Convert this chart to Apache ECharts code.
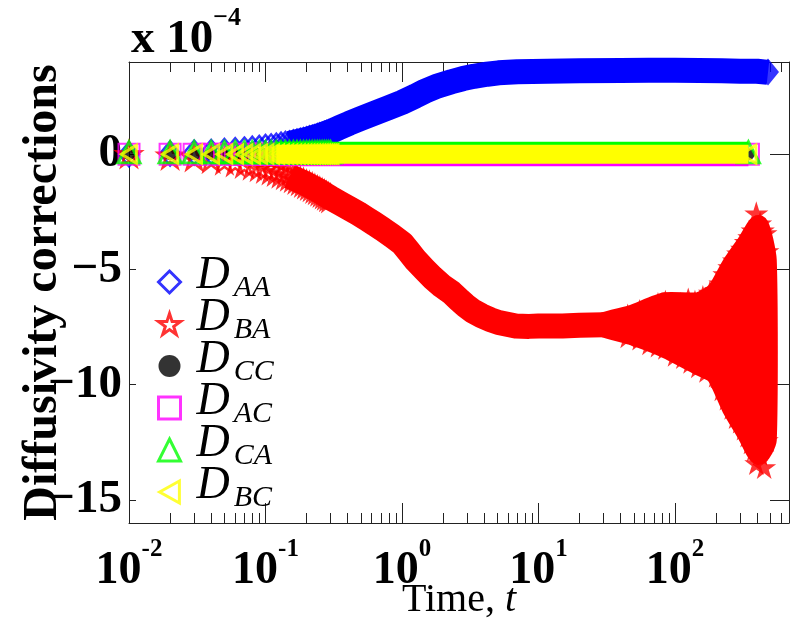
<!DOCTYPE html>
<html><head><meta charset="utf-8">
<script src="https://cdn.jsdelivr.net/npm/echarts@6/dist/echarts.min.js"></script>
<style>html,body{margin:0;padding:0;background:#fff}#c{width:792px;height:636px}</style>
</head><body><div id="c"></div>
<script>
// ---------------- data (values in units of 1e-4) ----------------
const seriesNames = ['D_AA', 'D_BA', 'D_CC', 'D_AC', 'D_CA', 'D_BC'];
const subText = ['AA', 'BA', 'CC', 'AC', 'CA', 'BC'];

const tEarly = [0.01,0.02,0.03,0.04,0.05,0.06,0.07,0.08,0.09,0.10,0.11,0.12,0.13,0.14,0.15,0.16,0.17,0.18,0.19,0.20,0.21,0.22,0.23,0.24,0.25,0.26,0.27,0.28,0.29,0.30];
const aaEarly = [0,0.03,0.07,0.10,0.14,0.17,0.20,0.24,0.27,0.31,0.34,0.37,0.41,0.44,0.47,0.51,0.54,0.58,0.61,0.64,0.68,0.71,0.74,0.78,0.81,0.84,0.88,0.91,0.94,0.98];
const baEarly = [0,-0.06,-0.13,-0.20,-0.27,-0.34,-0.41,-0.48,-0.55,-0.62,-0.69,-0.76,-0.83,-0.90,-0.96,-1.03,-1.10,-1.16,-1.23,-1.30,-1.36,-1.42,-1.49,-1.55,-1.61,-1.67,-1.73,-1.79,-1.85,-1.90];
const ccEarly = [0,0,0,0,0,0,0,0,0,0,0,0,0,0,0,0,0,0,0,0,0,0,0,0,0,0,0,0,0,0];
const acEarly = [0,0,0,0,0,0,0,0,0,0,0,0,0,0,0,0,0,0,0,0,0,0,0,0,0,0,0,0,0,0];
const caEarly = [0.08,0.08,0.08,0.08,0.08,0.08,0.08,0.08,0.08,0.08,0.08,0.08,0.08,0.08,0.08,0.08,0.08,0.08,0.08,0.08,0.08,0.08,0.08,0.08,0.08,0.08,0.08,0.08,0.08,0.08];
const bcEarly = [0,0,0,0,0,0,0,0,0,0,0,0,0,0,0,0,0,0,0,0,0,0,0,0,0,0,0,0,0,0];

// dense part (markers merge into a band)
const tAA = [0.15,0.2,0.25,0.3,0.35,0.41,0.5,0.63,0.8,1.0,1.25,1.47,1.8,2.3,2.8,3.36,4.2,5.1,7,11.6,20,40,64,100,150,220,300,400,480];
const vAA = [0.47,0.64,0.81,0.98,1.16,1.34,1.55,1.78,2.02,2.25,2.52,2.73,2.95,3.14,3.28,3.38,3.47,3.53,3.58,3.6,3.62,3.63,3.64,3.64,3.63,3.62,3.6,3.6,3.55];
const tBA = [0.15,0.2,0.25,0.3,0.35,0.41,0.48,0.55,0.63,0.72,0.85,1.0,1.12,1.26,1.45,1.67,1.95,2.3,2.6,2.9,3.3,3.8,4.4,5.1,6.8,8.5,10,15,20,30,40];
const vBA = [-0.96,-1.3,-1.61,-1.9,-2.12,-2.35,-2.58,-2.8,-3.02,-3.25,-3.55,-3.86,-4.22,-4.6,-4.98,-5.35,-5.7,-6.0,-6.3,-6.55,-6.8,-7.0,-7.17,-7.3,-7.45,-7.47,-7.45,-7.45,-7.42,-7.4,-7.4];
const tZero = [0.12,0.3,1,10,100,345];
const vCC = [0,0,0,0,0,0];
const vAC = [-0.02,-0.02,-0.02,-0.02,-0.02,-0.02];
const vCA = [0.08,0.08,0.08,0.08,0.08,0.08];
const vBC = [0,0,0,0,0,0];

// noisy late part of D_BA: envelope of the star cloud
const tailT  = [30,48,85,148,200,260,340,410,470];
const tailHi = [-7.3,-6.98,-6.42,-6.42,-5.98,-4.81,-3.81,-3.08,-4.6];
const tailLo = [-7.5,-7.85,-8.41,-9.15,-9.58,-11.0,-12.18,-13.05,-12.4];
// individual stars on the ragged edge of that cloud
const tailStarT = [45,55,65,75,85,95,110,125,140,160,180,200,215,230,250,270,290,310,330,350,370,394,420,440,460,475,
                   45,55,65,75,85,100,115,130,148,170,200,220,240,260,280,300,320,340,360,380,394,420,450,470];
const tailStarV = [-7.0,-6.8,-6.7,-6.5,-6.4,-6.9,-6.5,-6.3,-6.4,-6.2,-6.0,-5.9,-5.6,-5.2,-4.9,-4.6,-4.3,-4.1,-3.8,-3.6,-3.3,-2.56,-3.0,-3.3,-3.42,-4.2,
                   -7.9,-8.0,-8.2,-8.3,-8.4,-8.7,-8.8,-9.0,-9.2,-9.4,-9.6,-10.2,-10.6,-11.0,-11.4,-11.6,-11.9,-12.2,-12.5,-12.8,-13.4,-13.0,-13.57,-12.4];

// last markers at the end of each band
const aaLast = [480, 3.57];
const zeroLastT = 345;

// axis ticks
const xMin = 0.01, xMax = 684;
const xTickVals = [0.01, 0.1, 1, 10, 100];
const xTickSup = ['-2', '-1', '0', '1', '2'];
const yMin = -16, yMax = 4;
const yTickVals = [-15, -10, -5, 0];
const yTickText = ['\u221215', '\u221210', '\u22125', '0'];

// ---------------- styles ----------------
const COL = { AA: '#0000ff', BA: '#ff0000', CC: '#000000', AC: '#ff00ff', CA: '#00ff00', BC: '#ffff00' };
const STAR = 'path://M10,0 L12.234,6.926 L19.511,6.91 L13.614,11.174 L15.878,18.09 L10,13.8 L4.122,18.09 L6.386,11.174 L0.489,6.91 L7.766,6.926 Z';
const LTRI = 'path://M0,5 L9,0 L9,10 Z';
const UTRI = 'path://M5,0 L10,10 L0,10 Z';
const SERIF = 'Liberation Serif';

function pairs(ts, vs) { return ts.map((t, i) => [t, vs[i]]); }
function band(name, ts, vs, color, width, z) {
  return { name: name, type: 'line', data: pairs(ts, vs), showSymbol: false, symbol: 'none', smooth: false, clip: false, silent: true,
           lineStyle: { color: color, width: width, cap: 'butt', join: 'round' }, z: z };
}
function pts(name, data, symbol, size, color, hollow, bw, z) {
  return { name: name, type: 'scatter', data: data, symbol: symbol, symbolSize: size, clip: false, silent: true,
           itemStyle: hollow ? { color: 'none', borderColor: color, borderWidth: bw } : { color: color },
           z: z };
}

const minorExp = [];
[-2, -1, 0, 1, 2].forEach(k => { for (let m = 2; m <= 9; m++) { const e = k + Math.log10(m); if (e < Math.log10(xMax)) minorExp.push(e); } });

const chart = echarts.init(document.getElementById('c'), null, { renderer: 'canvas' });
function mkLine(show) { return { show: show, onZero: true, onZeroAxisIndex: 99, lineStyle: { color: '#222', width: 1 } }; }
function mkTick(len, custom) {
  const o = { show: true, inside: true, length: len, lineStyle: { color: '#222', width: 1 } };
  if (custom) o.customValues = custom;
  return o;
}

const legendIcons = ['diamond', STAR, 'circle', 'rect', UTRI, LTRI];
const legendCols = [COL.AA, COL.BA, COL.CC, COL.AC, COL.CA, COL.BC];

const option = {
  animation: false,
  backgroundColor: '#fff',
  title: {
    text: '{a|x 10}{b|\u22124}', left: 126, top: 0,
    textStyle: { rich: {
      a: { fontFamily: SERIF, fontWeight: 'bold', fontSize: 47, lineHeight: 58, verticalAlign: 'bottom', color: '#000' },
      b: { fontFamily: SERIF, fontWeight: 'bold', fontSize: 26, lineHeight: 26, verticalAlign: 'top', color: '#000' }
    } }
  },
  grid: { left: 129, right: 1, top: 62, bottom: 113, containLabel: false },
  legend: {
    orient: 'vertical', left: 151, top: 248, itemWidth: 22, itemHeight: 22, itemGap: -8,
    selectedMode: false,
    data: seriesNames.map((n, i) => ({
      name: n, icon: legendIcons[i],
      itemStyle: i === 2 ? { color: '#000', borderWidth: 0 } : { color: 'none', borderColor: legendCols[i], borderWidth: 3 }
    })),
    formatter: name => '{d|D}{s|' + subText[seriesNames.indexOf(name)] + '}',
    textStyle: { rich: {
      d: { fontFamily: SERIF, fontStyle: 'italic', fontSize: 46, lineHeight: 42, verticalAlign: 'bottom', padding: [0, 0, 4, 11], color: '#000' },
      s: { fontFamily: SERIF, fontStyle: 'italic', fontSize: 30, lineHeight: 42, verticalAlign: 'bottom', padding: [0, 0, 0, 4], color: '#000' }
    } }
  },
  xAxis: [
    { type: 'log', logBase: 10, min: xMin, max: xMax, position: 'bottom',
      axisLine: mkLine(true), splitLine: { show: false },
      axisTick: mkTick(20),
      axisLabel: { show: true, margin: 14, formatter: v => {
          const i = xTickVals.findIndex(x => Math.abs(Math.log10(x) - Math.log10(v)) < 1e-6);
          return i < 0 ? '' : '{b|10}{s|' + xTickSup[i] + '}'; },
        rich: {
          b: { fontFamily: SERIF, fontWeight: 'bold', fontSize: 46, lineHeight: 57, verticalAlign: 'bottom', color: '#000' },
          s: { fontFamily: SERIF, fontWeight: 'bold', fontSize: 25, lineHeight: 25, verticalAlign: 'top', color: '#000' }
        } },
      name: '{r|Time, }{i|t}', nameLocation: 'middle', nameGap: 57, nameMoveOverlap: false,
      nameTextStyle: { lineHeight: 40, rich: {
        r: { fontFamily: SERIF, fontSize: 40, lineHeight: 40, color: '#000' },
        i: { fontFamily: SERIF, fontStyle: 'italic', fontSize: 40, lineHeight: 40, color: '#000' } } }
    },
    { type: 'value', min: Math.log10(xMin), max: Math.log10(xMax), position: 'bottom',
      axisLine: mkLine(false), splitLine: { show: false }, axisLabel: { show: false },
      axisTick: mkTick(10, minorExp) },
    { type: 'log', logBase: 10, min: xMin, max: xMax, position: 'top',
      axisLine: mkLine(true), splitLine: { show: false }, axisLabel: { show: false },
      axisTick: mkTick(20) },
    { type: 'value', min: Math.log10(xMin), max: Math.log10(xMax), position: 'top',
      axisLine: mkLine(false), splitLine: { show: false }, axisLabel: { show: false },
      axisTick: mkTick(10, minorExp) }
  ],
  yAxis: [
    { type: 'value', min: yMin, max: yMax, position: 'left',
      axisLine: mkLine(true), splitLine: { show: false },
      axisTick: mkTick(7, yTickVals),
      axisLabel: { show: true, margin: 7, customValues: yTickVals,
        formatter: v => yTickText[yTickVals.indexOf(v)],
        fontFamily: SERIF, fontWeight: 'bold', fontSize: 47, color: '#000' },
      name: 'Diffusivity corrections', nameLocation: 'middle', nameGap: 63, nameRotate: 90, nameMoveOverlap: false,
      nameTextStyle: { fontFamily: SERIF, fontWeight: 'bold', fontSize: 48, lineHeight: 44, color: '#000' } },
    { type: 'value', min: yMin, max: yMax, position: 'right',
      axisLine: mkLine(true), splitLine: { show: false }, axisLabel: { show: false },
      axisTick: mkTick(19, yTickVals) }
  ],
  series: [
    // D_AA (blue diamonds)
    band('AA band', tAA, vAA, COL.AA, 25, 2),
    pts('D_AA', pairs(tEarly, aaEarly), 'diamond', [20, 24], COL.AA, true, 2.5, 2),
    pts('AA end', [aaLast], 'diamond', [22, 27], COL.AA, false, 0, 2),
    // D_BA (red stars)
    band('BA band', tBA, vBA, COL.BA, 25, 3),
    { name: 'BA tail', type: 'custom', silent: true, clip: false, z: 3,
      data: [[tailT[0], tailHi[0]]],
      renderItem: (params, api) => {
        const p = [];
        for (let i = 0; i < tailT.length; i++) p.push(api.coord([tailT[i], tailHi[i]]));
        for (let i = tailT.length - 1; i >= 0; i--) p.push(api.coord([tailT[i], tailLo[i]]));
        return { type: 'polygon', shape: { points: p, smooth: 0.2 },
                 style: { fill: COL.BA, stroke: COL.BA, lineWidth: 20, lineJoin: 'round' } };
      } },
    pts('BA tail stars', pairs(tailStarT, tailStarV), STAR, 24, COL.BA, false, 0, 3),
    pts('D_BA', pairs(tEarly, baEarly), STAR, 24, COL.BA, true, 2.5, 3),
    // D_CC (black dots)
    band('CC band', tZero, vCC, COL.CC, 12, 4),
    pts('D_CC', pairs(tEarly, ccEarly).concat([[zeroLastT, 0]]), 'circle', 12, COL.CC, false, 0, 4),
    // D_AC (magenta squares)
    band('AC band', tZero, vAC, COL.AC, 23, 5),
    pts('D_AC', pairs(tEarly, acEarly).concat([[zeroLastT, 0]]), 'rect', 21, COL.AC, true, 2, 5),
    // D_CA (green triangles)
    band('CA band', tZero, vCA, COL.CA, 21, 6),
    pts('D_CA', pairs(tEarly, caEarly).concat([[zeroLastT, 0.08]]), UTRI, [22, 21], COL.CA, true, 3, 6),
    // D_BC (yellow left triangles)
    band('BC band', tZero, vBC, COL.BC, 19, 7),
    pts('D_BC', pairs(tEarly, bcEarly).concat([[zeroLastT, 0]]), LTRI, [15, 18], COL.BC, true, 3, 7)
  ]
};
chart.setOption(option);
</script>
</body></html>
